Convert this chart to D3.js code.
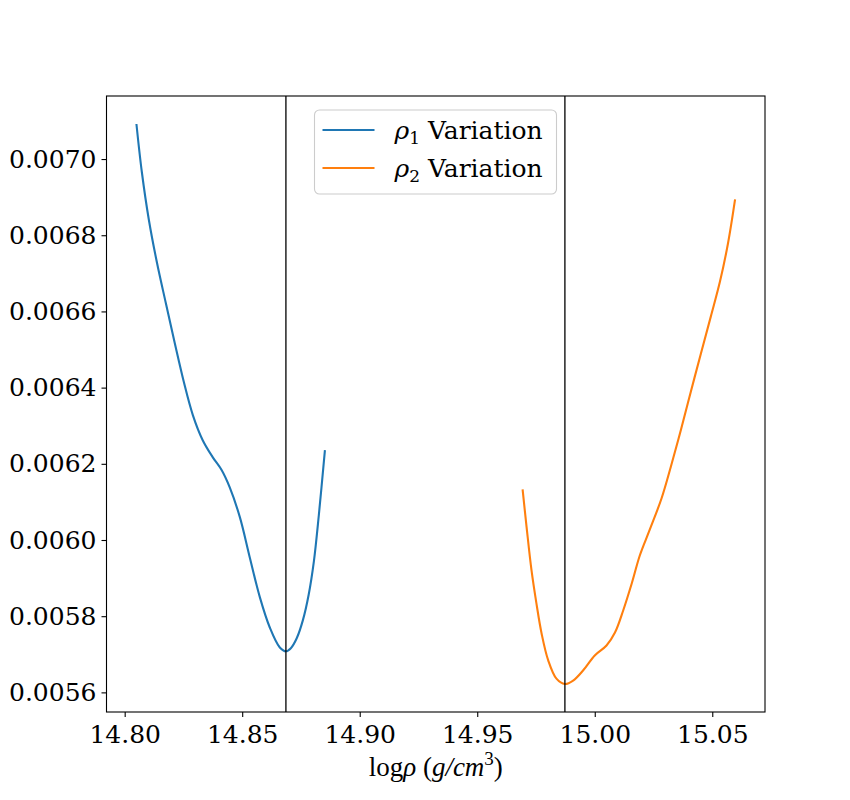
<!DOCTYPE html>
<html>
<head>
<meta charset="utf-8">
<script src="https://cdn.jsdelivr.net/npm/d3@7"></script>
<style>
  body { margin: 0; background: #fff; }
  text { font-family: "DejaVu Serif", serif; }
</style>
</head>
<body>
<div id="chart"></div>
<script>
// rho_1 variation (blue)
var rho1X = [14.8050, 14.8073, 14.8103, 14.8137, 14.8175, 14.8213, 14.8252, 14.8290, 14.8332,
  14.8375, 14.8413, 14.8447, 14.8490, 14.8532, 14.8575, 14.8617, 14.8660, 14.8686, 14.8707,
  14.8732, 14.8758, 14.8783, 14.8805, 14.8826, 14.8852];
var rho1Y = [0.007092, 0.006966, 0.006840, 0.006729, 0.006622, 0.006517, 0.006414, 0.006328, 0.006262,
  0.006217, 0.006183, 0.006138, 0.006060, 0.005955, 0.005850, 0.005771, 0.005718, 0.005708, 0.005716,
  0.005742, 0.005789, 0.005857, 0.005944, 0.006065, 0.006236];

// rho_2 variation (orange)
var rho2X = [14.9693, 14.9710, 14.9731, 14.9752, 14.9774, 14.9802, 14.9837, 14.9873, 14.9908,
  14.9951, 15.0000, 15.0050, 15.0086, 15.0121, 15.0157, 15.0192, 15.0234, 15.0284, 15.0324,
  15.0367, 15.0409, 15.0452, 15.0494, 15.0533, 15.0567, 15.0597];
var rho2Y = [0.006133, 0.006034, 0.005920, 0.005833, 0.005754, 0.005684, 0.005636, 0.005622, 0.005631,
  0.005658, 0.005697, 0.005723, 0.005757, 0.005815, 0.005885, 0.005960, 0.006027, 0.006109, 0.006193,
  0.006290, 0.006390, 0.006490, 0.006587, 0.006679, 0.006779, 0.006894];

// vertical lines at the minima
var minLines = [14.8686, 14.9873];

var xTicks = [14.80, 14.85, 14.90, 14.95, 15.00, 15.05];
var yTicks = [0.0056, 0.0058, 0.0060, 0.0062, 0.0064, 0.0066, 0.0068, 0.0070];

var seriesNames = ["Variation", "Variation"];
var colors = ["#1f77b4", "#ff7f0e"];

var margin = { top: 96, right: 85, bottom: 88, left: 106.5 },
width = 850 - margin.left - margin.right,
height = 800 - margin.top - margin.bottom;

var svg = d3
.select("#chart")
.append("svg")
.attr("width", 850)
.attr("height", 800)
.append("g")
.attr("transform", "translate(" + margin.left + "," + margin.top + ")");

var series = [
  rho1X.map((v, i) => ({ x: v, y: rho1Y[i] })),
  rho2X.map((v, i) => ({ x: v, y: rho2Y[i] }))
];

// matplotlib style 5% margins
var allX = rho1X.concat(rho2X), allY = rho1Y.concat(rho2Y);
var xe = d3.extent(allX), ye = d3.extent(allY);
var xp = (xe[1] - xe[0]) * 0.05, yp = (ye[1] - ye[0]) * 0.05;

var x = d3.scaleLinear().domain([xe[0] - xp, xe[1] + xp]).range([0, width]);
var y = d3.scaleLinear().domain([ye[0] - yp, ye[1] + yp]).range([height, 0]);

//Add X axis
svg.append("g")
.attr("transform", "translate(0," + height + ")")
.call(d3.axisBottom(x).tickValues(xTicks).tickFormat(d3.format(".2f")).tickSize(5).tickPadding(5))
.call((g) => g.select(".domain").remove())
.call((g) => g.selectAll("line").attr("stroke-width", 1.1))
.call((g) => g.selectAll("text").style("font-size", "25px").attr("fill", "#000").attr("dy", "0.85em"));

//Add Y axis
svg.append("g")
.call(d3.axisLeft(y).tickValues(yTicks).tickFormat(d3.format(".4f")).tickSize(5).tickPadding(5))
.call((g) => g.select(".domain").remove())
.call((g) => g.selectAll("line").attr("stroke-width", 1.1))
.call((g) => g.selectAll("text").style("font-size", "25px").attr("fill", "#000"));

// curves
var line = d3.line()
.x((d) => x(d.x))
.y((d) => y(d.y))
.curve(d3.curveCatmullRom.alpha(0.5));

svg.append("g")
.selectAll("path")
.data(series)
.enter()
.append("path")
.attr("d", line)
.attr("fill", "none")
.attr("stroke", (d, i) => colors[i])
.attr("stroke-width", 2.1);

// vertical lines
svg.append("g")
.selectAll("line")
.data(minLines)
.enter()
.append("line")
.attr("x1", (d) => x(d))
.attr("x2", (d) => x(d))
.attr("y1", 0)
.attr("y2", height)
.attr("stroke", "#000")
.attr("stroke-width", 1.3);

// frame
svg.append("rect")
.attr("width", width)
.attr("height", height)
.attr("fill", "none")
.attr("stroke", "#000")
.attr("stroke-width", 1.1);

// x label
var xl = svg.append("text")
.attr("x", width / 2)
.attr("y", height + 64)
.attr("text-anchor", "middle")
.style("font-family", "'Liberation Serif', serif")
.style("font-size", "27px");
xl.append("tspan").text("log");
xl.append("tspan").style("font-style", "italic").text("ρ");
xl.append("tspan").text(" (");
xl.append("tspan").style("font-style", "italic").text("g/cm");
xl.append("tspan").attr("dy", -11).style("font-size", "19px").text("3");
xl.append("tspan").attr("dy", 11).text(")");

// legend
var legend = svg.append("g").attr("transform", "translate(208,14)");
legend.append("rect")
.attr("width", 242)
.attr("height", 84)
.attr("rx", 5)
.attr("fill", "#fff")
.attr("fill-opacity", 0.8)
.attr("stroke", "#ccc")
.attr("stroke-width", 1.1);

var item = legend.selectAll(".item")
.data(seriesNames)
.enter()
.append("g")
.attr("class", "item")
.attr("transform", (d, i) => "translate(0," + (20 + i * 38) + ")");

item.append("line")
.attr("x1", 8)
.attr("x2", 60)
.attr("stroke", (d, i) => colors[i])
.attr("stroke-width", 2.1);

var lt = item.append("text")
.attr("x", 80)
.attr("y", 9)
.style("font-size", "25px");
lt.append("tspan").style("font-style", "italic").text("ρ");
lt.append("tspan").attr("dy", 5).style("font-size", "17px").text((d, i) => i + 1);
lt.append("tspan").attr("dy", -5).text((d) => " " + d);
</script>
</body>
</html>
